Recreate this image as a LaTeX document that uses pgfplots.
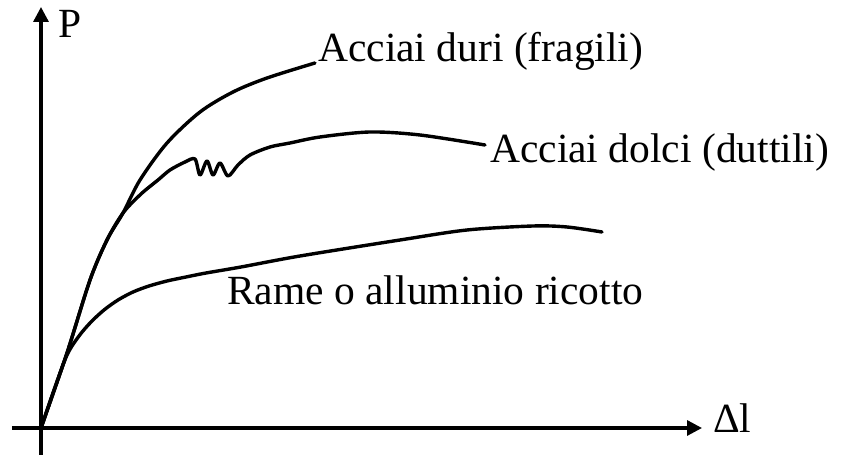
\documentclass[border=0pt]{standalone}
\usepackage{pgfplots}
\pgfplotsset{compat=1.18}
\usepackage{fontspec}
\setmainfont{Liberation Serif}
\usetikzlibrary{arrows.meta}
\tikzset{lbl/.style={anchor=base west, font=\fontsize{41.5}{44}\selectfont, inner sep=0pt}}
\pgfplotsset{curve/.style={black, line width=3.4pt, line cap=round, line join=round, no marks, smooth, tension=0.5}}

\begin{document}
\begin{tikzpicture}
\begin{axis}[
  x=1pt, y=1pt,
  xmin=-29, xmax=661, ymin=-27, ymax=421,
  enlargelimits=false,
  axis lines=middle,
  axis line style={line width=3.2pt, -{Triangle[length=15pt,width=15pt]}},
  xtick=\empty, ytick=\empty,
  clip=false,
]
% page frame
\path (axis cs:-41,-28) rectangle (axis cs:804,428);

% hard steels
\addplot[curve] coordinates {
  (0,0) (26,75) (49,148) (66,188) (82,215) (99,248) (126,285)
  (159,316) (192,336) (226,350) (274,365)
};

% mild steels, with the yield wiggle
\addplot[curve] coordinates {
  (0,0) (26,75) (49,148) (66,188) (82,215) (100,234) (117,248) (129,258)
  (144,266) (154,269) (159,253) (166,267) (172,253) (179,265) (187,252)
  (197,263) (209,273) (229,281) (249,285) (279,291) (329,296) (379,293) (444,283)
};

% annealed copper or aluminium
\addplot[curve] coordinates {
  (0,0) (13,38) (26,73) (38,92) (50,106) (63,118) (77,128) (92,136)
  (108,142) (126,147) (145,151) (165,155) (200,161) (259,172) (359,188)
  (426,198) (492,202) (526,201) (561,196)
};

\node[lbl] at (axis cs:277,366) {Acciai duri (fragili)};
\node[lbl] at (axis cs:449,265) {Acciai dolci (duttili)};
\node[lbl] at (axis cs:186,123) {Rame o alluminio ricotto};
\node[lbl] at (axis cs:17,390) {P};
\node[lbl] at (axis cs:672,-5) {Δl};
\end{axis}
\end{tikzpicture}
\end{document}
